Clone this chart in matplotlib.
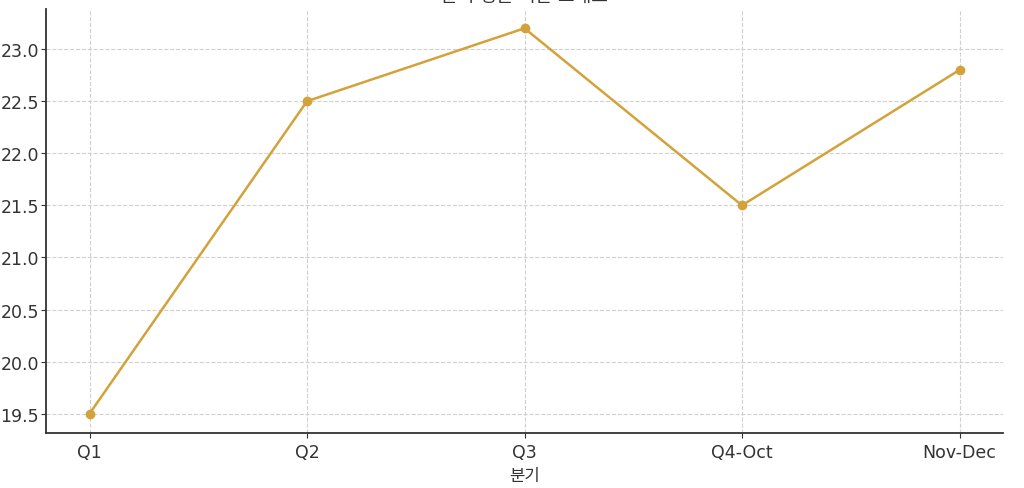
import matplotlib
matplotlib.use("Agg")
import matplotlib.pyplot as plt

categories = ["Q1", "Q2", "Q3", "Q4-Oct", "Nov-Dec"]
values = [19.5, 22.5, 23.2, 21.5, 22.8]
yticks = [19.5, 20.0, 20.5, 21.0, 21.5, 22.0, 22.5, 23.0]
title_text = "분기 평균 기온 그래프"
xlabel_text = "분기"

plt.rcParams['font.family'] = ['DejaVu Sans', 'Noto Sans CJK KR']

fig = plt.figure(figsize=(10.24, 4.89), dpi=100)
ax = fig.add_axes([46/1024, 1-434/489, (1003-46)/1024, (434-10)/489])

ax.plot(categories, values, color="#D4A23A", linewidth=1.8, marker="o", markersize=6)

ax.set_title(title_text, fontsize=13, color="#333333")
ax.set_xlabel(xlabel_text, fontsize=12, color="#333333")
ax.grid(True, linestyle="--", color="#d0d0d0", linewidth=0.8)
ax.set_axisbelow(True)
for s in ["top", "right"]:
    ax.spines[s].set_visible(False)
for s in ["left", "bottom"]:
    ax.spines[s].set_color("#333333")
    ax.spines[s].set_linewidth(1.3)
ax.tick_params(axis="both", labelsize=12.5, colors="#333333", length=3.5)
ax.tick_params(axis="y", pad=1.5)
ax.set_yticks(yticks)
ax.set_yticklabels([f"{v:.1f}" for v in yticks])

fig.savefig("out.png", dpi=100)
